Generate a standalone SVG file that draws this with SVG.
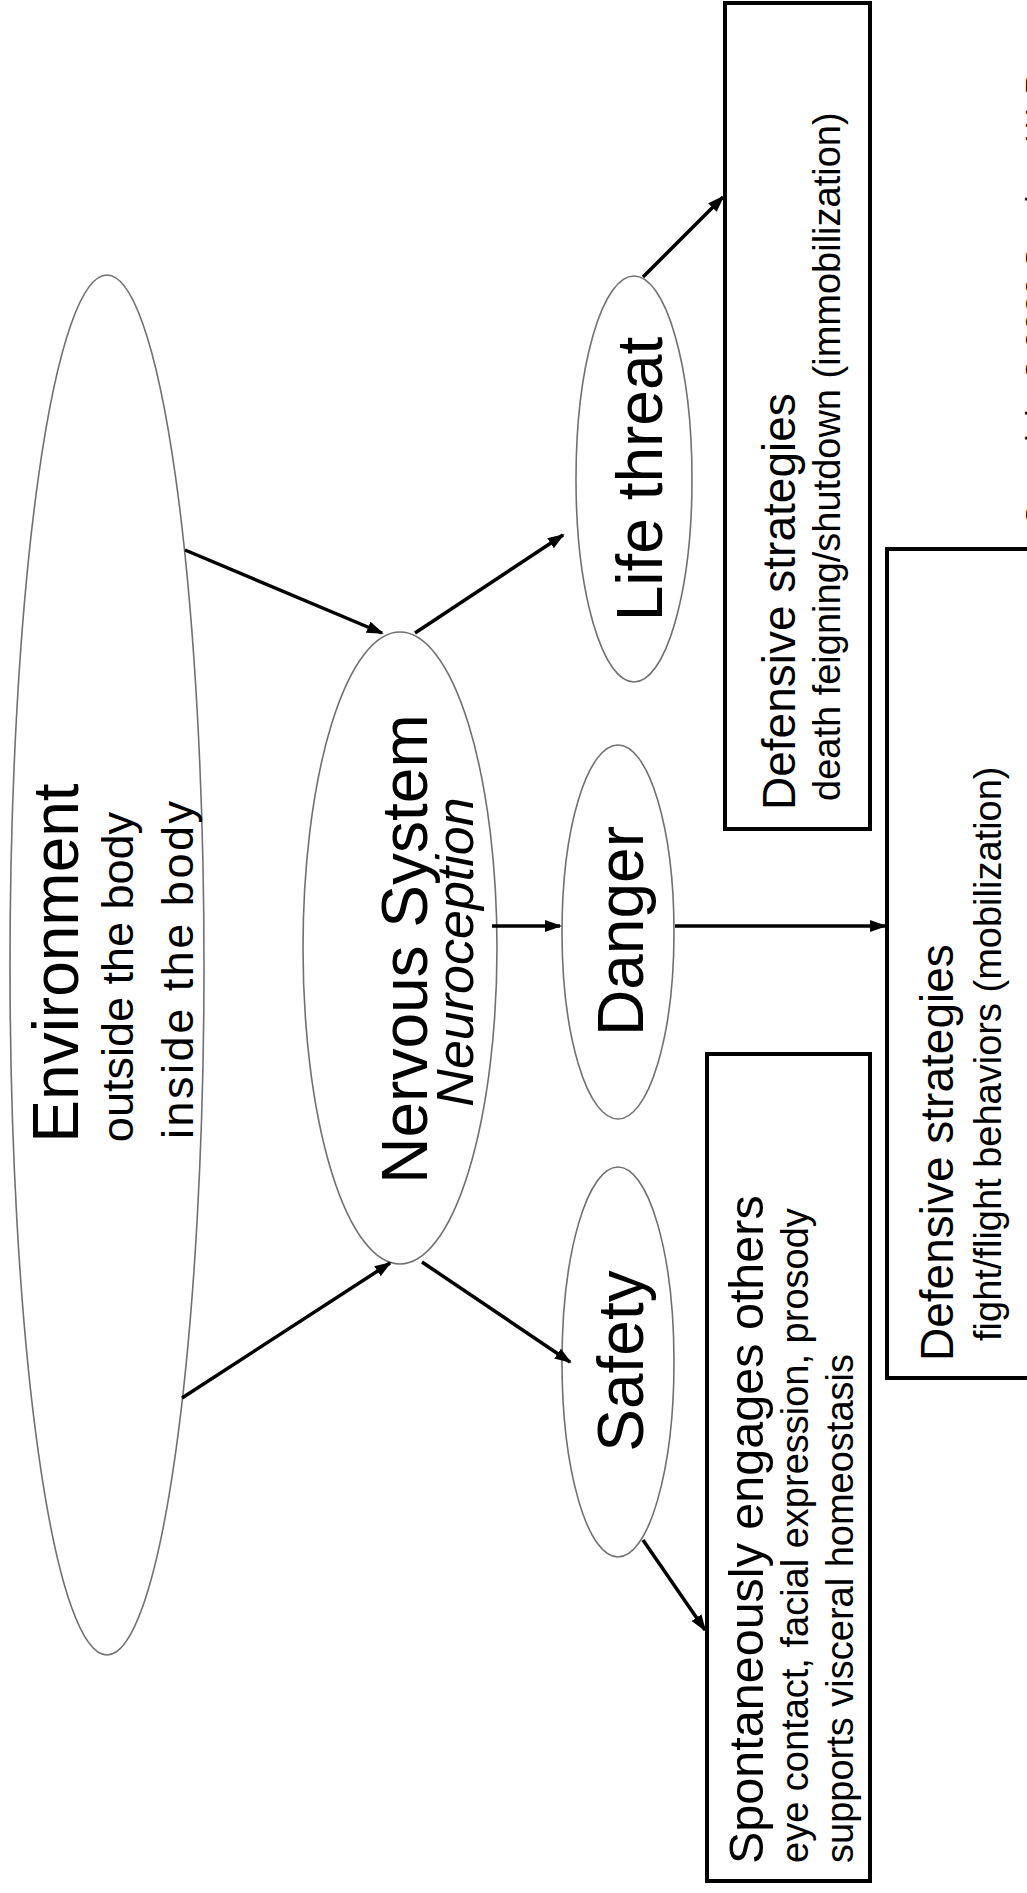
<svg xmlns="http://www.w3.org/2000/svg" width="1027" height="1893" viewBox="0 0 1027 1893">
<style>
.ell{fill:#fff;stroke:#707070;stroke-width:1.6}
.box{fill:#fff;stroke:#000;stroke-width:4}
.t{font-family:"Liberation Sans",Arial,sans-serif;fill:#000}
.big{font-size:64px}
.mid{font-size:46px}
.sm{font-size:38px}
.c{text-anchor:middle}
.con line{stroke:#000;stroke-width:3.5;marker-end:url(#ah)}
</style>
<defs>
<marker id="ah" markerUnits="userSpaceOnUse" markerWidth="18" markerHeight="14" refX="15" refY="6" orient="auto">
<path d="M0,0 L17,6 L0,12 z" fill="#000"/>
</marker>
</defs>
<rect width="1027" height="1893" fill="#fff"/>

<g id="environment">
<ellipse class="ell" cx="107" cy="965" rx="97" ry="690"/>
<text class="t big c" transform="translate(78,963) rotate(-90)">Environment</text>
<text class="t c" font-size="45" transform="translate(133,977) rotate(-90)">outside the body</text>
<text class="t c" font-size="45" textLength="338" lengthAdjust="spacing" transform="translate(193,970) rotate(-90)">inside the body</text>
</g>

<g id="nervous-system">
<ellipse class="ell" cx="400" cy="948" rx="97" ry="316"/>
<text class="t big c" transform="translate(427,949) rotate(-90)">Nervous System</text>
<text class="t c" font-size="52" font-style="italic" transform="translate(473,952) rotate(-90)">Neuroception</text>
</g>

<g id="life-threat">
<ellipse class="ell" cx="634" cy="479" rx="58" ry="203"/>
<text class="t big c" transform="translate(662,479) rotate(-90)">Life threat</text>
</g>

<g id="danger">
<ellipse class="ell" cx="618" cy="932" rx="56" ry="187"/>
<text class="t big c" transform="translate(643,931) rotate(-90)">Danger</text>
</g>

<g id="safety">
<ellipse class="ell" cx="618" cy="1362" rx="56" ry="195"/>
<text class="t big c" transform="translate(643,1361) rotate(-90)">Safety</text>
</g>

<g id="box-immobilization">
<rect class="box" x="725" y="3" width="145" height="826"/>
<text class="t mid" transform="translate(795,810) rotate(-90)">Defensive strategies</text>
<text class="t sm" transform="translate(840,801) rotate(-90)">death feigning/shutdown (immobilization)</text>
</g>

<g id="box-mobilization">
<rect class="box" x="887" y="549" width="170" height="829"/>
<text class="t mid" transform="translate(953,1361) rotate(-90)">Defensive strategies</text>
<text class="t sm" transform="translate(1001,1341) rotate(-90)">fight/flight behaviors (mobilization)</text>
</g>

<g id="box-engagement">
<rect class="box" x="707" y="1054" width="163" height="827"/>
<text class="t" font-size="48.5" transform="translate(763,1864) rotate(-90)">Spontaneously engages others</text>
<text class="t sm" transform="translate(808,1863) rotate(-90)">eye contact, facial expression, prosody</text>
<text class="t sm" transform="translate(853,1863) rotate(-90)">supports visceral homeostasis</text>
</g>

<g id="copyright">
<text class="t" font-size="32" transform="translate(1048,527) rotate(-90)">Copyright © 2009 Stephen W. Porges</text>
</g>

<g class="con" id="connectors">
<line x1="185" y1="550" x2="382" y2="633"/>
<line x1="182" y1="1398" x2="390" y2="1263"/>
<line x1="415" y1="633" x2="563" y2="535"/>
<line x1="492" y1="926" x2="560" y2="926"/>
<line x1="422" y1="1262" x2="570" y2="1362"/>
<line x1="643" y1="277" x2="723" y2="197"/>
<line x1="675" y1="926" x2="885" y2="926"/>
<line x1="643" y1="1540" x2="705" y2="1630"/>
</g>
</svg>
